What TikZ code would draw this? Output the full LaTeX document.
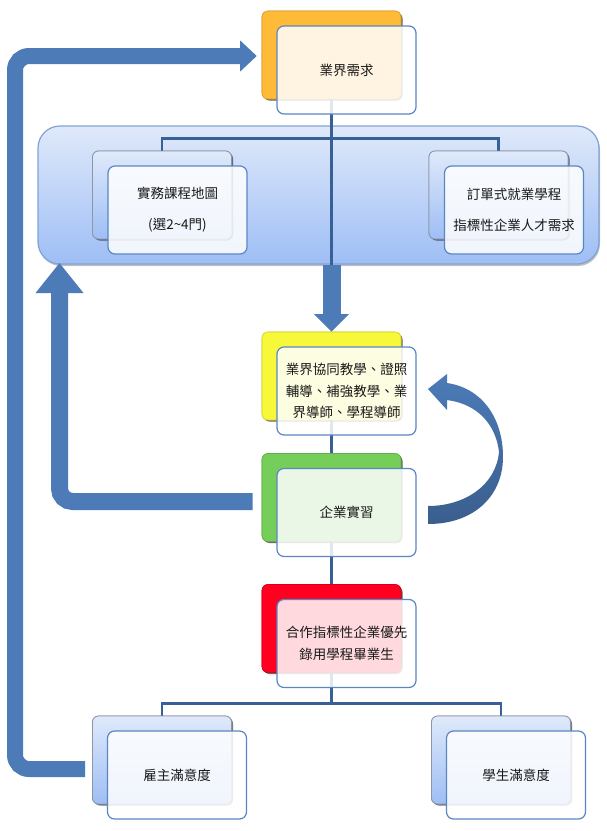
\documentclass[tikz,border=0pt]{standalone}
\usepackage{fontspec}
\setmainfont{Noto Sans CJK TC}
\usetikzlibrary{calc,shadows}
\definecolor{arrowblue}{RGB}{76,123,183}
\definecolor{arrowdark}{RGB}{58,94,142}
\definecolor{connblue}{RGB}{55,96,150}
\definecolor{frontblue}{RGB}{91,134,197}
\definecolor{gtop}{RGB}{223,233,250}
\definecolor{gbot}{RGB}{158,190,245}
\definecolor{backgray}{RGB}{140,150,168}
\definecolor{contborder}{RGB}{128,163,214}
\definecolor{orangeb}{RGB}{255,186,56}
\definecolor{yellowb}{RGB}{248,248,58}
\definecolor{greenb}{RGB}{118,206,90}
\definecolor{redb}{RGB}{255,0,32}
\definecolor{txt}{RGB}{25,25,25}
\begin{document}
\begin{tikzpicture}[x=1pt,y=-1pt,
  boxsize/.style={minimum width=139pt,minimum height=88pt,inner sep=0pt},
  backbox/.style={boxsize,draw=#1!85!black,line width=0.6pt,fill=#1,rounded corners=6pt,
    drop shadow={shadow xshift=1.5pt,shadow yshift=-1.5pt,opacity=0.35,fill=black}},
  gradbox/.style={boxsize,draw=backgray,line width=0.8pt,top color=gtop,bottom color=gbot,rounded corners=6pt,
    drop shadow={shadow xshift=1.5pt,shadow yshift=-1.5pt,opacity=0.3,fill=black}},
  frontbox/.style={boxsize,draw=frontblue,line width=1.2pt,fill=white,fill opacity=0.85,text opacity=1,
    rounded corners=7pt,align=center,text=txt,font=\fontsize{13.5pt}{21.5pt}\selectfont},
  conn/.style={draw=connblue,line width=2.8pt},
  bigarrow/.style={draw=arrowblue},
  headfill/.style={fill=arrowblue},
]
\useasboundingbox (0,0) rectangle (606,831);
\fill[white] (0,0) rectangle (606,831);

% container
\node[draw=contborder,line width=1.2pt,top color=gtop,bottom color=gbot,rounded corners=22pt,
  minimum width=561pt,minimum height=138pt,inner sep=0pt,
  drop shadow={shadow xshift=1pt,shadow yshift=-2pt,opacity=0.25,fill=black}] (cont) at (318.5,195) {};

% back boxes (positions only, needed for connectors)
\path (331.5,55) node[backbox=orangeb] (tb) {};
\path (162,195) node[gradbox] (lcb) {};
\path (498.5,195) node[gradbox] (rcb) {};

% connectors at top
\draw[conn] (tb.south) -- (tb.south |- cont.south);
\draw[conn] (lcb.north) -- ++(0,-12) -| (rcb.north);

% redraw back boxes above connectors
\path (331.5,55) node[backbox=orangeb] {};
\path (162,195) node[gradbox] {};
\path (498.5,195) node[gradbox] {};

% middle column back boxes
\path (331.5,376) node[backbox=yellowb] (yb) {};
\path (331.5,497.5) node[backbox=greenb] (gb) {};
\path (331.5,628.5) node[backbox=redb] (rb) {};
\path (162,760) node[gradbox] (blb) {};
\path (501,760) node[gradbox] (brb) {};

\coordinate (bj) at ($(rb.south)+(0,30.5)$);
\draw[conn] (yb.south) -- (gb.north);
\draw[conn] (gb.south) -- (rb.north);
\draw[conn] (rb.south) -- (bj);
\draw[conn] (blb.north) |- (bj) -| (brb.north);
\path (331.5,376) node[backbox=yellowb] {};
\path (331.5,497.5) node[backbox=greenb] {};
\path (331.5,628.5) node[backbox=redb] {};
\path (162,760) node[gradbox] {};
\path (501,760) node[gradbox] {};

% thin line through the lower parts of front boxes
\draw[conn] (tb.south) -- ++(0,15);
\draw[conn] (yb.south) -- ++(0,15);
\draw[conn] (gb.south) -- ++(0,15);
\draw[conn] (rb.south) -- ++(0,15);

% front boxes with text
\node[frontbox] (tf) at ($(tb)+(15,15)$) {業界需求};
\node[frontbox] (lcf) at ($(lcb)+(15.5,15)$) {實務課程地圖\\[9.5pt](選2\textasciitilde 4門)};
\node[frontbox] (rcf) at ($(rcb)+(15.5,15)$) {訂單式就業學程\\[9.5pt]指標性企業人才需求};
\node[frontbox] (yf) at ($(yb)+(15,15)$) {業界協同教學、證照\\輔導、補強教學、業\\界導師、學程導師};
\node[frontbox] (gf) at ($(gb)+(15,15)$) {企業實習};
\node[frontbox] (rf) at ($(rb)+(15,15)$) {合作指標性企業優先\\錄用學程畢業生};
\node[frontbox] (blf) at ($(blb)+(15,15)$) {雇主滿意度};
\node[frontbox] (brf) at ($(brb)+(15,15)$) {學生滿意度};

% down thick arrow: container -> yellow
\draw[bigarrow,line width=18pt] (tb.south |- cont.south) -- ($(yb.north)+(0,-17)$);
\fill[headfill] ($(yb.north)+(-17.5,-17.5)$) -- ($(yb.north)+(17.5,-17.5)$) -- (yb.north) -- cycle;

% left inner arrow: green -> container
\coordinate (ia) at ($(gb.west)+(-9,4)$);
\coordinate (ctip) at (59.5,263);
\draw[bigarrow,line width=17pt,rounded corners=13pt] (ia) -- (ctip |- ia) -- ($(ctip)+(0,29)$);
\fill[headfill] ($(ctip)+(-24,30)$) -- ($(ctip)+(24,30)$) -- (ctip) -- cycle;

% outer arrow: employer satisfaction -> industry demand
\coordinate (oa) at ($(blb.west)+(-7,9)$);
\coordinate (otip) at ($(tb.west)+(-5,1)$);
\draw[bigarrow,line width=16pt,rounded corners=14pt] (oa) -- (15,769) -- (15,56) -- ($(otip)+(-16,0)$);
\fill[headfill] ($(otip)+(-16.5,-15.5)$) -- ($(otip)+(-16.5,15.5)$) -- (otip) -- cycle;

% curved arrow: internship -> teaching
\shade[top color=arrowblue,bottom color=arrowdark]
  (428,524) .. controls (475,524) and (503,495) .. (503,457)
  .. controls (503,418) and (482,388) .. (447,383)
  -- (447,374) -- (428,389) -- (447,410) -- (447,400)
  .. controls (478,404) and (496,425) .. (499,452)
  .. controls (496,485) and (465,506) .. (428,506) -- cycle;
\end{tikzpicture}
\end{document}
